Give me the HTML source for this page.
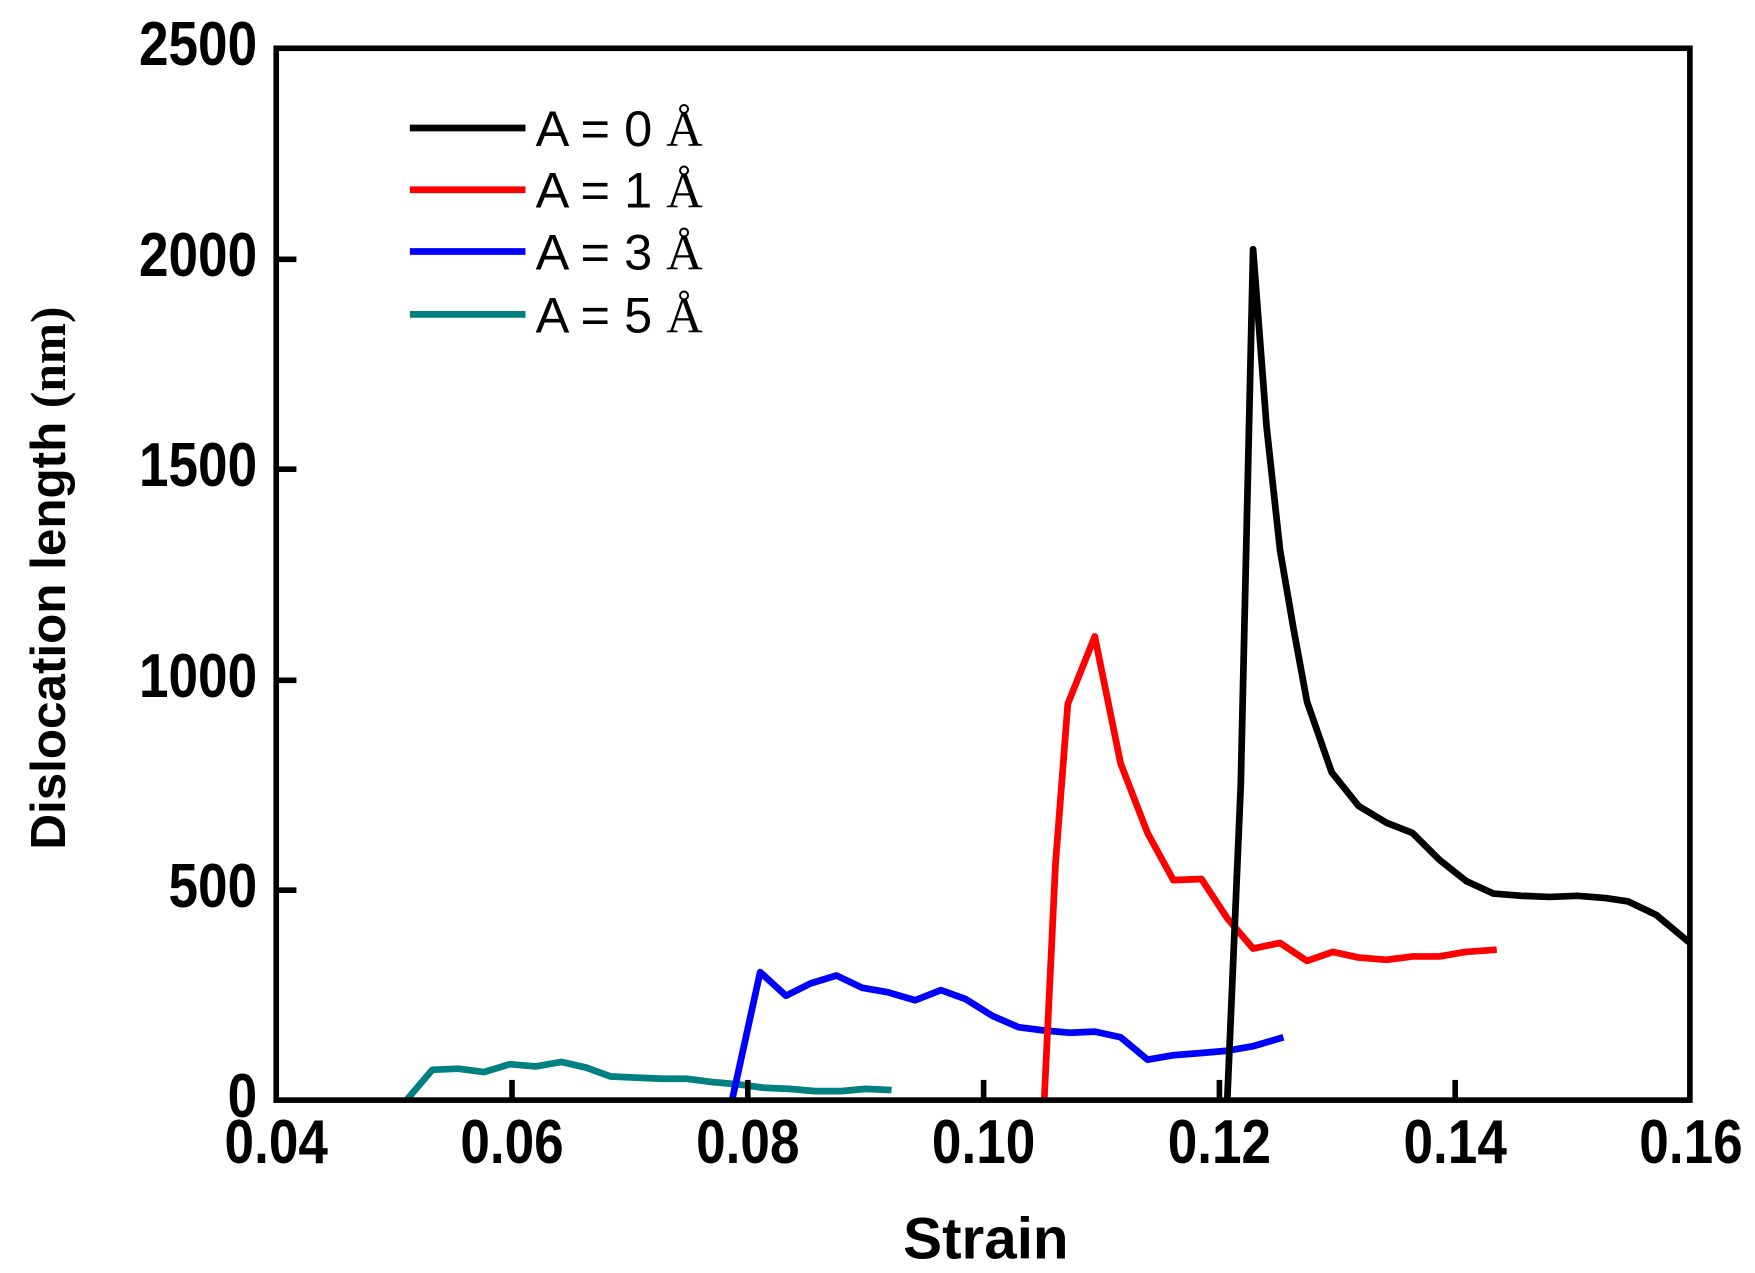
<!DOCTYPE html>
<html><head><meta charset="utf-8"><style>html,body{margin:0;padding:0;background:#fff}svg{display:block}</style></head>
<body>
<svg width="1755" height="1273" viewBox="0 0 1563 1134" preserveAspectRatio="none" xmlns="http://www.w3.org/2000/svg">
<rect width="1563" height="1134" fill="#fff"/>
<g fill="none" stroke-linejoin="round" stroke-linecap="butt">
<polyline stroke="#008080" stroke-width="6" points="362,980 385,953 408,952 431,955 454,948 477,950 500,946 522,951 544,959 567,960 590,961 612,961 635,964 658,966 680,969 703,970 726,972 749,972 771,970 794,971"/>
<polyline stroke="#0000ff" stroke-width="6" points="652,980 677,866 700,887 722,876 745,869 768,880 791,884 815,891 838,882 860,890 884,905 907,915 930,918 953,920 975,919 998,924 1022,944 1045,940 1070,938 1093,936 1116,932 1143,924"/>
<polyline stroke="#ff0000" stroke-width="6" points="930,980 940,770 951,627 975,567 998,680 1022,742 1045,784 1070,783 1093,818 1116,845 1140,840 1164,856 1187,848 1210,853 1235,855 1258,852 1282,852 1305,848 1333,846"/>
<polyline stroke="#000" stroke-width="6" points="1093,980 1105,700 1116,222 1128,380 1140,490 1152,560 1164,625 1186,688 1210,718 1235,733 1258,742 1282,766 1306,785 1330,796 1355,798 1380,799 1405,798 1430,800 1450,803 1475,815 1505,840"/>
</g>
<g stroke="#000" stroke-width="5">
<rect x="246" y="43" width="1259" height="937" fill="none"/>
<line x1="456" y1="980" x2="456" y2="962"/><line x1="666" y1="980" x2="666" y2="962"/><line x1="876" y1="980" x2="876" y2="962"/><line x1="1086" y1="980" x2="1086" y2="962"/><line x1="1296" y1="980" x2="1296" y2="962"/>
<line x1="246" y1="793" x2="264" y2="793"/><line x1="246" y1="606" x2="264" y2="606"/><line x1="246" y1="418" x2="264" y2="418"/><line x1="246" y1="231" x2="264" y2="231"/>
</g>
<g font-family="Liberation Sans, sans-serif" font-weight="bold" font-size="55" fill="#000">
<g text-anchor="middle">
<text x="246" y="1036" transform="translate(246 0) scale(0.86 1) translate(-246 0)">0.04</text>
<text x="456" y="1036" transform="translate(456 0) scale(0.86 1) translate(-456 0)">0.06</text>
<text x="666" y="1036" transform="translate(666 0) scale(0.86 1) translate(-666 0)">0.08</text>
<text x="876" y="1036" transform="translate(876 0) scale(0.86 1) translate(-876 0)">0.10</text>
<text x="1086" y="1036" transform="translate(1086 0) scale(0.86 1) translate(-1086 0)">0.12</text>
<text x="1296" y="1036" transform="translate(1296 0) scale(0.86 1) translate(-1296 0)">0.14</text>
<text x="1506" y="1036" transform="translate(1506 0) scale(0.86 1) translate(-1506 0)">0.16</text>
</g>
<g text-anchor="end">
<text x="229" y="995" transform="translate(229 0) scale(0.86 1) translate(-229 0)">0</text>
<text x="229" y="808" transform="translate(229 0) scale(0.86 1) translate(-229 0)">500</text>
<text x="229" y="621" transform="translate(229 0) scale(0.86 1) translate(-229 0)">1000</text>
<text x="229" y="433" transform="translate(229 0) scale(0.86 1) translate(-229 0)">1500</text>
<text x="229" y="246" transform="translate(229 0) scale(0.86 1) translate(-229 0)">2000</text>
<text x="229" y="58" transform="translate(229 0) scale(0.86 1) translate(-229 0)">2500</text>
</g>
<text x="878" y="1121" text-anchor="middle" font-size="52">Strain</text>
<text transform="translate(58 515) rotate(-90)" text-anchor="middle" font-size="44">Dislocation length <tspan font-family="Liberation Serif, serif">(nm)</tspan></text>
</g>
<g stroke-width="6">
<line x1="365" y1="114" x2="468" y2="114" stroke="#000"/>
<line x1="365" y1="169" x2="468" y2="169" stroke="#ff0000"/>
<line x1="365" y1="224" x2="468" y2="224" stroke="#0000ff"/>
<line x1="365" y1="280" x2="468" y2="280" stroke="#008080"/>
</g>
<g font-family="Liberation Sans, sans-serif" font-size="45" fill="#000">
<text x="477" y="130">A = 0 <tspan font-family="Liberation Serif, serif">Å</tspan></text>
<text x="477" y="185">A = 1 <tspan font-family="Liberation Serif, serif">Å</tspan></text>
<text x="477" y="240">A = 3 <tspan font-family="Liberation Serif, serif">Å</tspan></text>
<text x="477" y="296">A = 5 <tspan font-family="Liberation Serif, serif">Å</tspan></text>
</g>
</svg>
</body></html>
